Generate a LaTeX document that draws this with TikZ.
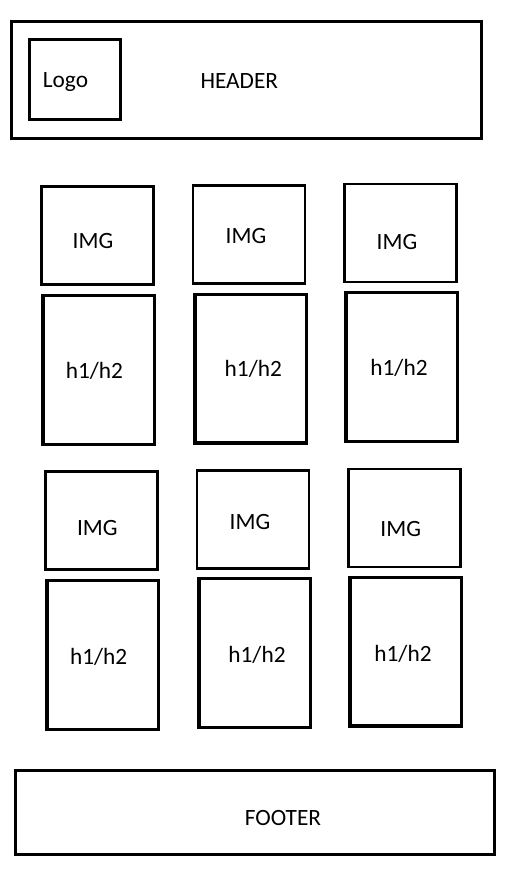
\documentclass[tikz,border=0pt]{standalone}
\usepackage{fontspec}
\setmainfont{Carlito}
\begin{document}
\begin{tikzpicture}[x=0.75pt,y=0.75pt,yscale=-1,xscale=1,
  framebox/.style={draw, line width=2.25pt, inner sep=0pt},
  imgbox/.style={draw, line width=2pt, inner sep=0pt, minimum width=84pt, minimum height=73.5pt},
  headbox/.style={draw, line width=2.6pt, inner sep=0pt, minimum width=83.6pt, minimum height=111.4pt},
  lbl/.style={anchor=base, inner sep=0.75pt, font=\fontsize{17.5}{21}\selectfont}]
\useasboundingbox (0,0) rectangle (523,880);

%Header and logo
\node [framebox, minimum width=352.5pt, minimum height=87.75pt] (header) at (246.5,80) {};
\node [framebox, minimum width=68.25pt, minimum height=60pt] (logo) at (75,79.5) {};
%Footer
\node [framebox, minimum width=359.25pt, minimum height=63pt] (footer) at (255,812.5) {};

%Image boxes, first row
\node [imgbox] (imgA1) at (97.5,235.5) {};
\node [imgbox] (imgB1) at (249,234.5) {};
\node [imgbox] (imgC1) at (400.5,233) {};
%Heading boxes, first row
\node [headbox] (hA1) at (98.5,370) {};
\node [headbox] (hB1) at (250.5,368.5) {};
\node [headbox] (hC1) at (401.5,367) {};
%Image boxes, second row
\node [imgbox] (imgA2) at (101.5,520.5) {};
\node [imgbox] (imgB2) at (253,519.5) {};
\node [imgbox] (imgC2) at (404.5,518) {};
%Heading boxes, second row
\node [headbox] (hA2) at (102.5,655) {};
\node [headbox] (hB2) at (254.5,653) {};
\node [headbox] (hC2) at (405.5,651.5) {};

% Text Node
\node [lbl] (txtHeader) at (239.3,88.3) {HEADER};
% Text Node
\node [lbl] (txtLogo) at (65.5,88) {Logo};
% Text Node
\node [lbl] (txtFooter) at (283,825.7) {FOOTER};
% Text Node
\node [lbl] (txtImgA1) at (93,248.3) {IMG};
% Text Node
\node [lbl] (txtImgB1) at (246,243.3) {IMG};
% Text Node
\node [lbl] (txtImgC1) at (397,250) {IMG};
% Text Node
\node [lbl] (txtHA1) at (94.5,378.5) {h1/h2};
% Text Node
\node [lbl] (txtHB1) at (253.3,376) {h1/h2};
% Text Node
\node [lbl] (txtHC1) at (399,375.5) {h1/h2};
% Text Node
\node [lbl] (txtImgA2) at (97.3,535) {IMG};
% Text Node
\node [lbl] (txtImgB2) at (250,529.3) {IMG};
% Text Node
\node [lbl] (txtImgC2) at (400.7,536.7) {IMG};
% Text Node
\node [lbl] (txtHA2) at (98.7,664.5) {h1/h2};
% Text Node
\node [lbl] (txtHB2) at (257,662.5) {h1/h2};
% Text Node
\node [lbl] (txtHC2) at (403,661) {h1/h2};

\end{tikzpicture}
\end{document}
